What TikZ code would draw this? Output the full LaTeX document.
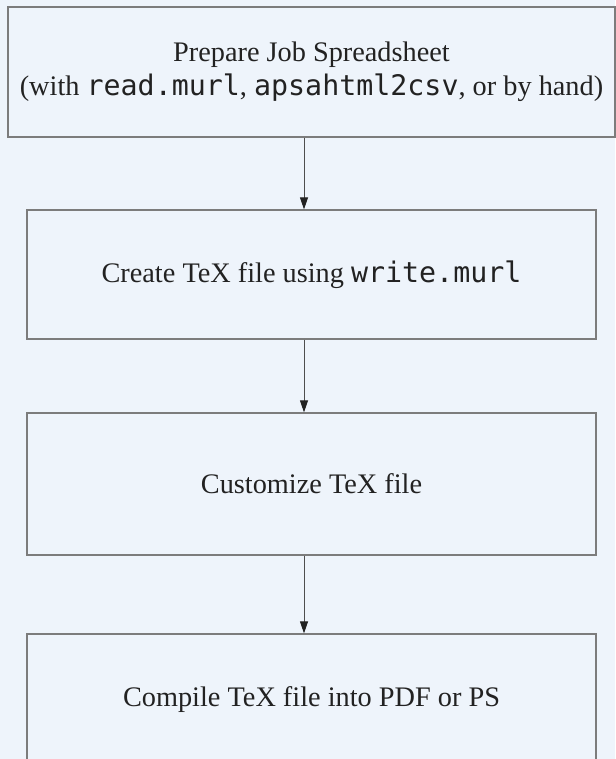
\documentclass[tikz,border=0pt]{standalone}
\usepackage{fontspec}
\setmainfont{Liberation Serif}
\newfontfamily\codefont{DejaVu Sans Mono}
\usetikzlibrary{arrows.meta}

\definecolor{pagebg}{HTML}{EEF4FB}
\definecolor{boxline}{HTML}{7C7C7C}
\definecolor{inkdark}{HTML}{222222}
\newcommand{\prog}[1]{{\codefont #1}}

\tikzset{
  stage/.style={draw=boxline, line width=1.2pt, fill=pagebg, text=inkdark,
    align=center, inner sep=0pt, font=\fontsize{28.3}{34}\selectfont},
  flow/.style={draw=inkdark!80, line width=0.9pt,
    -{Triangle[width=8pt,length=12pt,color=inkdark]}}
}

\begin{document}
\begin{tikzpicture}[x=1pt,y=1pt]

    % page
    \fill[pagebg] (0,0) rectangle (615,759);
    \useasboundingbox (0,0) rectangle (615,759);

    % stages
    \node[stage, minimum width=607pt, minimum height=130pt] (prep) at (311.5,687)
        {Prepare Job Spreadsheet\\(with \prog{read.murl}, \prog{apsahtml2csv}, or by hand)};
    \node[stage, minimum width=569pt, minimum height=129pt] (create) at (311.5,484.5)
        {Create TeX file using \prog{write.murl}};
    \node[stage, minimum width=569pt, minimum height=142pt] (custom) at (311.5,275)
        {Customize TeX file};
    \node[stage, minimum width=569pt, minimum height=132pt] (compile) at (311.5,59)
        {Compile TeX file into PDF or PS};

    % arrows (a little left of the box centres)
    \draw[flow] ([xshift=-7.5pt]prep.south) -- ([xshift=-7.5pt]create.north);
    \draw[flow] ([xshift=-7.5pt]create.south) -- ([xshift=-7.5pt]custom.north);
    \draw[flow] ([xshift=-7.5pt]custom.south) -- ([xshift=-7.5pt]compile.north);

\end{tikzpicture}
\end{document}
